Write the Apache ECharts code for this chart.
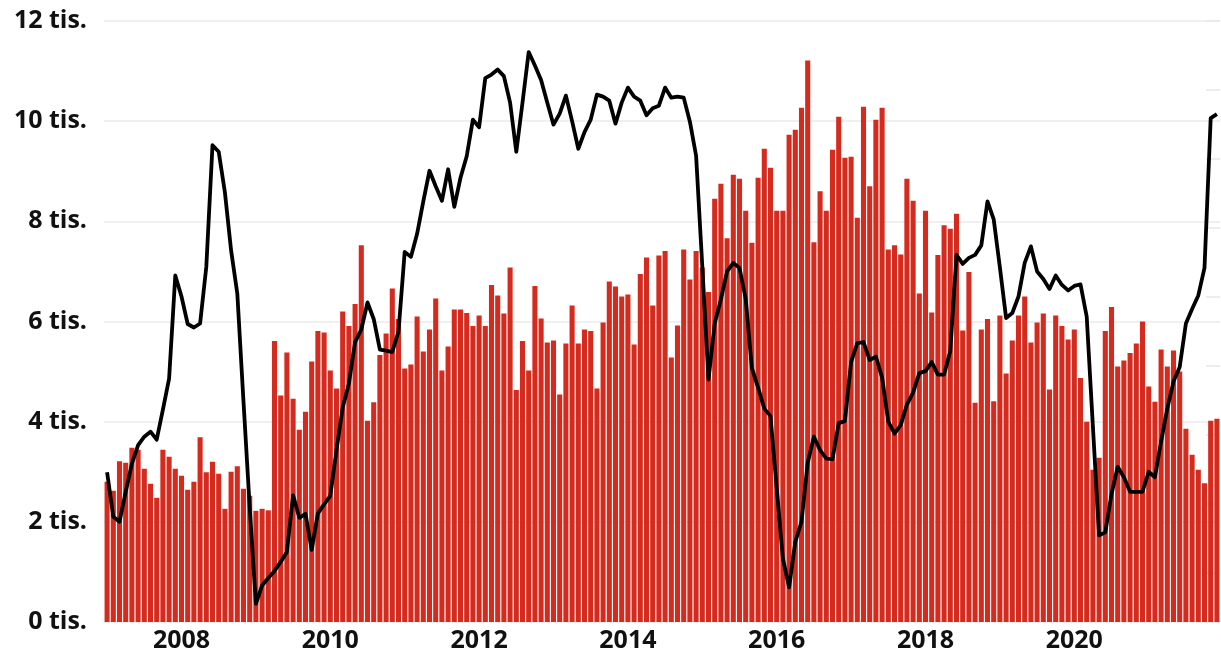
<!DOCTYPE html>
<html>
<head>
<meta charset="utf-8">
<script src="https://cdn.jsdelivr.net/npm/echarts@6/dist/echarts.min.js"></script>
<style>
  html, body { margin: 0; background: #fff; }
  #chart { width: 1221px; height: 661px; }
</style>
</head>
<body>
<div id="chart"></div>
<script>
// monthly series, Jan 2007 .. Dec 2021, values in thousands
const firstYear = 2007
const lastYear = 2021

// red bars, one row per year
const barValues = [
  2.80, 2.62, 3.21, 3.18, 3.48, 3.44, 3.06, 2.76, 2.48, 3.44, 3.30, 3.06,
  2.92, 2.64, 2.80, 3.69, 2.99, 3.20, 2.96, 2.26, 3.00, 3.11, 2.66, 2.52,
  2.22, 2.26, 2.23, 5.61, 4.52, 5.38, 4.46, 3.84, 4.20, 5.20, 5.81, 5.78,
  5.02, 4.66, 6.20, 5.91, 6.35, 7.52, 4.02, 4.39, 5.33, 5.76, 6.66, 6.05,
  5.06, 5.14, 6.10, 5.40, 5.84, 6.46, 5.02, 5.50, 6.24, 6.24, 6.17, 5.91,
  6.12, 5.91, 6.73, 6.52, 6.16, 7.08, 4.63, 5.61, 5.02, 6.71, 6.06, 5.58,
  5.62, 4.54, 5.56, 6.32, 5.56, 5.84, 5.81, 4.66, 5.98, 6.80, 6.70, 6.50,
  6.54, 5.54, 6.95, 7.28, 6.32, 7.32, 7.41, 5.28, 5.92, 7.44, 6.84, 7.41,
  7.08, 6.59, 8.45, 8.75, 7.66, 8.93, 8.85, 8.21, 7.57, 8.87, 9.45, 9.07,
  8.21, 8.21, 9.73, 9.83, 10.27, 11.21, 7.58, 8.60, 8.21, 9.43, 10.09, 9.27,
  9.29, 8.07, 10.29, 8.70, 10.03, 10.27, 7.44, 7.52, 7.34, 8.85, 8.41, 6.56,
  8.21, 6.18, 7.33, 7.92, 7.85, 8.15, 5.82, 6.99, 4.38, 5.84, 6.05, 4.41,
  6.12, 4.96, 5.62, 6.12, 6.50, 5.58, 5.98, 6.16, 4.64, 6.12, 5.91, 5.64,
  5.84, 4.87, 4.00, 3.04, 3.28, 5.81, 6.29, 5.10, 5.22, 5.37, 5.56, 6.00,
  4.70, 4.40, 5.44, 5.10, 5.42, 5.00, 3.86, 3.34, 3.04, 2.77, 4.02, 4.06
]

// black line, one row per year
const lineValues = [
  2.99, 2.10, 2.00, 2.60, 3.16, 3.53, 3.70, 3.80, 3.64, 4.24, 4.86, 6.92,
  6.50, 5.95, 5.88, 5.96, 7.09, 9.52, 9.39, 8.58, 7.42, 6.56, 4.40, 2.30,
  0.36, 0.73, 0.88, 1.02, 1.20, 1.40, 2.53, 2.08, 2.16, 1.44, 2.17, 2.35,
  2.52, 3.43, 4.28, 4.76, 5.59, 5.84, 6.38, 6.05, 5.44, 5.42, 5.39, 5.80,
  7.39, 7.29, 7.75, 8.40, 9.01, 8.70, 8.41, 9.04, 8.29, 8.87, 9.30, 10.03,
  9.88, 10.86, 10.93, 11.03, 10.90, 10.37, 9.39, 10.37, 11.38, 11.11, 10.82, 10.37,
  9.93, 10.15, 10.51, 10.00, 9.45, 9.78, 10.03, 10.53, 10.49, 10.41, 9.95, 10.37,
  10.67, 10.49, 10.41, 10.12, 10.26, 10.31, 10.67, 10.47, 10.49, 10.47, 9.99, 9.31,
  7.10, 4.84, 5.96, 6.44, 7.00, 7.17, 7.07, 6.45, 5.07, 4.68, 4.26, 4.11,
  2.68, 1.27, 0.69, 1.60, 2.00, 3.18, 3.70, 3.43, 3.26, 3.25, 3.97, 4.01,
  5.19, 5.57, 5.59, 5.23, 5.30, 4.88, 4.00, 3.76, 3.93, 4.34, 4.58, 4.97,
  5.01, 5.19, 4.94, 4.94, 5.41, 7.33, 7.15, 7.27, 7.33, 7.52, 8.40, 8.04,
  7.08, 6.07, 6.17, 6.50, 7.17, 7.50, 7.00, 6.85, 6.65, 6.92, 6.73, 6.62,
  6.71, 6.74, 6.10, 3.90, 1.73, 1.79, 2.55, 3.10, 2.89, 2.60, 2.60, 2.60,
  3.00, 2.89, 3.60, 4.26, 4.80, 5.09, 5.96, 6.25, 6.52, 7.07, 10.06, 10.14
]

const months = []
for (let y = firstYear; y <= lastYear; y++) {
  for (let m = 1; m <= 12; m++) months.push(y + '-' + String(m).padStart(2, '0'))
}

const labelFont = { fontFamily: 'Open Sans', fontWeight: 'bold', fontSize: 25, color: '#111' }

const chart = echarts.init(document.getElementById('chart'), null, { renderer: 'canvas' })
chart.setOption({
  animation: false,
  backgroundColor: '#fff',
  grid: { left: 104, right: 1, top: 21, bottom: 39 },
  xAxis: {
    type: 'category',
    data: months,
    axisLine: { show: false },
    axisTick: { show: false },
    axisLabel: {
      ...labelFont,
      margin: 6,
      // label every second January
      interval: (i, v) => v.endsWith('-01') && Number(v.slice(0, 4)) % 2 === 0,
      formatter: v => v.slice(0, 4)
    }
  },
  yAxis: [
    {
      type: 'value',
      min: 0,
      max: 12,
      interval: 2,
      axisLabel: { ...labelFont, margin: 17, formatter: v => v + ' tis.' },
      splitLine: { lineStyle: { color: '#ebebeb', width: 1.5 } }
    },
    {
      // faint right-hand ticks (unlabelled second scale)
      type: 'value',
      position: 'right',
      inverse: true,
      min: 0,
      max: 8.71,
      interval: 1,
      axisLine: { show: false },
      axisLabel: { show: false },
      splitLine: { show: false },
      axisTick: { show: true, inside: true, length: 14, lineStyle: { color: '#e8e8e8', width: 1.5 } }
    }
  ],
  series: [
    {
      type: 'bar',
      data: barValues,
      barCategoryGap: '18%',
      itemStyle: { color: '#d52b1e' }
    },
    {
      type: 'line',
      data: lineValues,
      symbol: 'none',
      lineStyle: { color: '#000', width: 3.8, join: 'round' }
    }
  ]
})
</script>
</body>
</html>
